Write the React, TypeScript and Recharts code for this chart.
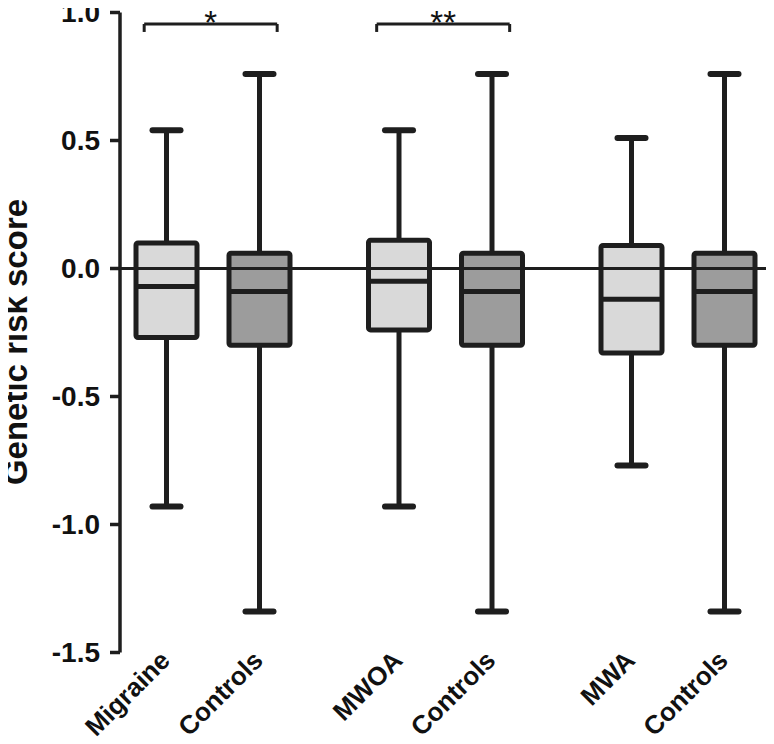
import React from "react";
import { ComposedChart, Bar, XAxis, YAxis, ReferenceLine } from "recharts";

// one box per group
const groups = ["Migraine", "Controls", "MWOA", "Controls", "MWA", "Controls"];
const isCase = [true, false, true, false, true, false];
const whiskerLow = [-0.93, -1.34, -0.93, -1.34, -0.77, -1.34];
const quartile1 = [-0.27, -0.3, -0.24, -0.3, -0.33, -0.3];
const medians = [-0.07, -0.09, -0.05, -0.09, -0.12, -0.09];
const quartile3 = [0.1, 0.06, 0.11, 0.06, 0.09, 0.06];
const whiskerHigh = [0.54, 0.76, 0.54, 0.76, 0.51, 0.76];

const yTicks = [-1.5, -1.0, -0.5, 0, 0.5, 1.0];
const comparisons = [
  { a: 0, b: 1, mark: "*" },
  { a: 2, b: 3, mark: "**" },
];

const FONT = "'Liberation Sans', Arial, Helvetica, sans-serif";
const INK = "#1e1e1e";

// pairs sit together, with a wider gap between pairs
const slot = (i: number) => i + Math.floor(i / 2) * 0.5;

const data = groups.map((name, i) => ({
  name,
  pos: slot(i),
  min: whiskerLow[i],
  q1: quartile1[i],
  median: medians[i],
  q3: quartile3[i],
  max: whiskerHigh[i],
  fill: isCase[i] ? "#d9d9d9" : "#9c9c9c",
}));

function BoxShape(props: any) {
  const { x, y, width, height } = props;
  const d = props.payload ?? props;
  const top = Math.min(y, y + height);
  const bottom = Math.max(y, y + height);
  const k = (bottom - top) / (d.max - d.min);
  const toY = (v: number) => top + (d.max - v) * k;
  const cx = x + width / 2;
  const capHalf = 14;
  return (
    <g>
      <line x1={cx} x2={cx} y1={toY(d.max)} y2={toY(d.q3)} stroke={INK} strokeWidth={5} />
      <line x1={cx} x2={cx} y1={toY(d.q1)} y2={toY(d.min)} stroke={INK} strokeWidth={5} />
      <line x1={cx - capHalf} x2={cx + capHalf} y1={toY(d.max)} y2={toY(d.max)} stroke={INK} strokeWidth={6} strokeLinecap="round" />
      <line x1={cx - capHalf} x2={cx + capHalf} y1={toY(d.min)} y2={toY(d.min)} stroke={INK} strokeWidth={6} strokeLinecap="round" />
      <rect
        x={x}
        y={toY(d.q3)}
        width={width}
        height={toY(d.q1) - toY(d.q3)}
        rx={2}
        fill={d.fill}
        stroke={INK}
        strokeWidth={5}
      />
      <line x1={x} x2={x + width} y1={toY(d.median)} y2={toY(d.median)} stroke={INK} strokeWidth={5} />
    </g>
  );
}

function GroupTick(props: any) {
  const { x, y, payload } = props;
  const item = data.find((d) => d.pos === payload.value);
  if (!item) return null;
  const ax = x + 5;
  const ay = y + 9.5;
  return (
    <text
      x={ax}
      y={ay}
      transform={`rotate(-45, ${ax}, ${ay})`}
      textAnchor="end"
      fill="#111"
      fontFamily={FONT}
      fontWeight="bold"
      fontSize={26}
    >
      {item.name}
    </text>
  );
}

// y title sits a little below the middle of the axis, as in the figure
const Y_TITLE_X = 27;
const Y_TITLE_Y = 342;

const renderYLabel = () => (
  <text
    x={Y_TITLE_X}
    y={Y_TITLE_Y}
    transform={`rotate(-90, ${Y_TITLE_X}, ${Y_TITLE_Y})`}
    textAnchor="middle"
    fill="#111"
    fontFamily={FONT}
    fontWeight="bold"
    fontSize={33}
  >
    Genetic risk score
  </text>
);

const starLabel = (mark: string) => (props: any) => {
  const vb = props.viewBox;
  return (
    <text
      x={vb.x + vb.width / 2}
      y={vb.y + 10}
      textAnchor="middle"
      fill="#111"
      fontFamily={FONT}
      fontSize={33}
    >
      {mark}
    </text>
  );
};

const BRACKET_TOP = 0.955;
const BRACKET_END = 0.924;

export default function App() {
  return (
    <div style={{ margin: "-8px 0 0 -8px", width: 774, height: 744 }}>
      <ComposedChart
        width={774}
        height={744}
        data={data}
        margin={{ top: 12.5, right: 3, left: 0, bottom: 0 }}
      >
        <XAxis
          type="number"
          dataKey="pos"
          domain={[-0.5, 6.5]}
          ticks={data.map((d) => d.pos)}
          axisLine={false}
          tickLine={false}
          tickSize={0}
          tickMargin={0}
          interval={0}
          height={91.5}
          tick={<GroupTick />}
        />
        <YAxis
          type="number"
          domain={[-1.5, 1]}
          ticks={yTicks}
          interval={0}
          width={120}
          tickSize={10}
          tickMargin={10}
          tickFormatter={(v: number) => v.toFixed(1)}
          axisLine={{ stroke: INK, strokeWidth: 3.5 }}
          tickLine={{ stroke: INK, strokeWidth: 3.5 }}
          tick={{ fill: "#111", fontSize: 28, fontWeight: "bold", fontFamily: FONT }}
          label={renderYLabel}
        />
        <ReferenceLine y={0} stroke={INK} strokeWidth={3} />
        {comparisons.map((c) => {
          const left = data[c.a].pos - 0.24;
          const right = data[c.b].pos + 0.19;
          return [
            <ReferenceLine
              key={`h${c.a}`}
              segment={[
                { x: left, y: BRACKET_TOP },
                { x: right, y: BRACKET_TOP },
              ]}
              ifOverflow="visible"
              stroke={INK}
              strokeWidth={3}
              label={starLabel(c.mark)}
            />,
            <ReferenceLine
              key={`l${c.a}`}
              segment={[
                { x: left, y: BRACKET_TOP },
                { x: left, y: BRACKET_END },
              ]}
              ifOverflow="visible"
              stroke={INK}
              strokeWidth={3}
            />,
            <ReferenceLine
              key={`r${c.a}`}
              segment={[
                { x: right, y: BRACKET_TOP },
                { x: right, y: BRACKET_END },
              ]}
              ifOverflow="visible"
              stroke={INK}
              strokeWidth={3}
            />,
          ];
        })}
        <Bar
          dataKey={(d: any) => [d.min, d.max]}
          barSize={61}
          shape={<BoxShape />}
          isAnimationActive={false}
        />
      </ComposedChart>
    </div>
  );
}
